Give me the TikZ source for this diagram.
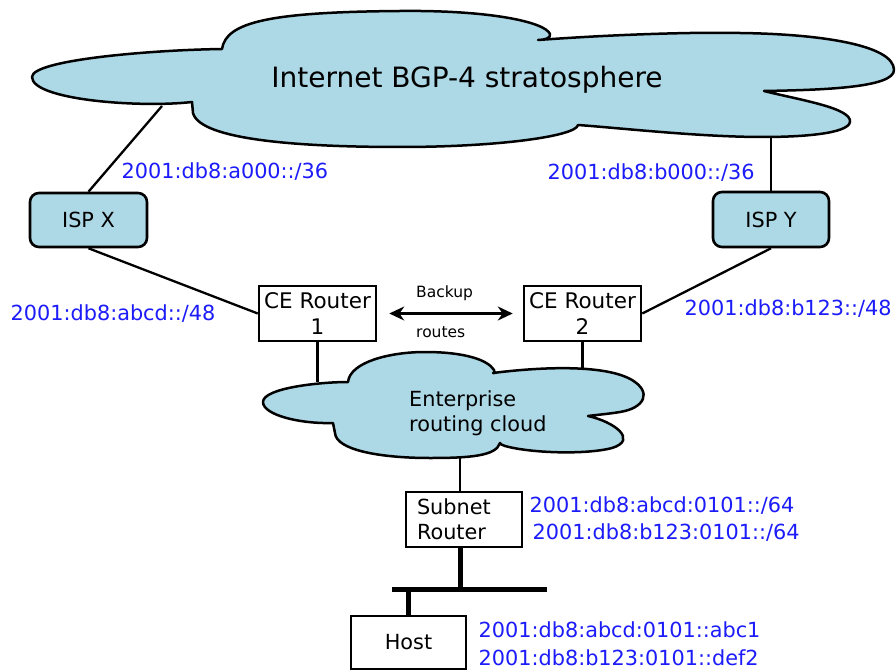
\documentclass[tikz,border=0pt]{standalone}
\usepackage{fontspec}
\setmainfont{DejaVu Sans}
\usetikzlibrary{arrows.meta}
\definecolor{cloudfill}{RGB}{173,216,230}
\definecolor{addrblue}{RGB}{28,28,250}
\begin{document}
\begin{tikzpicture}[x=1pt,y=-1pt,
  cloudshape/.style={draw=black, fill=cloudfill, line width=2.5pt, line join=round},
  link/.style={draw=black, line width=2.3pt},
  heavy/.style={draw=black, line width=5pt},
  ispbox/.style={draw=black, fill=cloudfill, line width=2.6pt, rounded corners=9pt, minimum width=117pt, minimum height=54pt, inner sep=0pt, font=\fontsize{20.8}{25}\selectfont},
  rbox/.style={draw=black, fill=white, line width=2.5pt, minimum width=117pt, minimum height=55pt, inner sep=0pt, align=center, font=\fontsize{21.5}{26}\selectfont},
  addr/.style={text=addrblue, font=\fontsize{20.8}{25}\selectfont, anchor=base west, inner sep=0pt},
  smalllabel/.style={font=\fontsize{15.5}{18}\selectfont, anchor=base west, inner sep=0pt},
  cloudtext/.style={inner sep=0pt}
]
\fill[white] (0,0) rectangle (896,671);
\useasboundingbox (0,0) rectangle (896,671);

% Internet cloud
\path[cloudshape] (222,49)
 .. controls (226,22) and (270,12) .. (400,11)
 .. controls (490,10) and (545,22) .. (550,34)
 .. controls (551,38) and (545,40) .. (538,40)
 .. controls (620,34) and (700,32) .. (740,33)
 .. controls (820,34) and (894,45) .. (894,70)
 .. controls (894,88) and (820,90) .. (764,91)
 .. controls (800,100) and (852,108) .. (850,122)
 .. controls (848,134) and (800,137) .. (763,137)
 .. controls (700,137) and (620,128) .. (578,125)
 .. controls (576,136) and (500,147) .. (400,147)
 .. controls (300,147) and (200,140) .. (193,113)
 -- (192,102)
 .. controls (140,108) and (32,100) .. (32,77)
 .. controls (32,60) and (150,50) .. (222,49)
 -- cycle;

% Enterprise cloud
\path[cloudshape] (348,382)
 .. controls (350,362) and (390,352) .. (425,352)
 .. controls (465,352) and (488,360) .. (494,370)
 .. controls (495,373) and (494,374) .. (493,373)
 .. controls (540,367) and (605,364) .. (632,380)
 .. controls (652,392) and (645,408) .. (620,412)
 .. controls (608,414) and (595,415) .. (588,416)
 .. controls (615,422) and (638,440) .. (612,448)
 .. controls (585,455) and (530,453) .. (505,446)
 .. controls (502,445) and (500,444) .. (500,443)
 .. controls (496,456) and (470,458) .. (430,458)
 .. controls (380,458) and (336,450) .. (335,433)
 -- (333,423)
 .. controls (300,424) and (263,415) .. (263,402)
 .. controls (263,388) and (320,382) .. (348,382)
 -- cycle;

\node[cloudtext, anchor=base, font=\fontsize{28}{30}\selectfont] (inettext) at (467,88) {Internet BGP-4 stratosphere};
\node[cloudtext, anchor=north west, align=left, font=\fontsize{20.8}{24.5}\selectfont] (enttext) at (409,390.5) {Enterprise\\routing cloud};

% boxes
\node[ispbox] (ispx) at (88.5,220) {ISP X};
\node[ispbox, minimum width=116pt, minimum height=55pt] (ispy) at (771,219.5) {ISP Y};
\node[rbox] (ce1) at (317.5,313.5) {CE Router\\1};
\node[rbox] (ce2) at (582.5,313.5) {CE Router\\2};
\node[rbox, align=left, text width=94pt, inner xsep=11pt, minimum width=116pt, font=\fontsize{20.8}{25}\selectfont] (subnet) at (464,519.5) {Subnet\\Router};
\node[rbox, minimum width=115pt, minimum height=53pt, font=\fontsize{20.8}{25}\selectfont] (host) at (408.5,642.5) {Host};

% connector points
\coordinate (inetL) at (162,106);
\coordinate (inetR) at (771,137);
\coordinate (entL) at (317.5,382);
\coordinate (entR) at (582.5,368);
\coordinate (entB) at (460,458);
\coordinate (busL) at (392,589);
\coordinate (busR) at (547,589);

\draw[link] (inetL) -- (ispx.north);
\draw[link] (inetR) -- (ispy.north);
\draw[link] (ispx.south) -- (ce1.west);
\draw[link] (ispy.south) -- (ce2.east);
\draw[link] (ce1.south) -- (entL);
\draw[link] (ce2.south) -- (entR);
\draw[link] (entB) -- (entB |- subnet.north);
\draw[heavy] (entB |- subnet.south) -- (entB |- busL);
\draw[heavy] (busL) -- (busR);
\draw[heavy] (host.north |- busL) -- (host.north);

\draw[link, {Stealth[length=15pt,width=14pt]}-{Stealth[length=15pt,width=14pt]}] ([xshift=12pt]ce1.east) -- ([xshift=-10pt]ce2.west);
\node[smalllabel] (backup) at (416,297.5) {Backup};
\node[smalllabel] (routes) at (416,337) {routes};

% addresses
\node[addr] (a1) at (121.5,178.5) {2001:db8:a000::/36};
\node[addr] (a2) at (547.5,179.5) {2001:db8:b000::/36};
\node[addr] (a3) at (10.5,320.5) {2001:db8:abcd::/48};
\node[addr] (a4) at (684.5,315.5) {2001:db8:b123::/48};
\node[addr] (a5) at (529.5,512.5) {2001:db8:abcd:0101::/64};
\node[addr] (a6) at (532.5,539.5) {2001:db8:b123:0101::/64};
\node[addr] (a7) at (478.5,637.5) {2001:db8:abcd:0101::abc1};
\node[addr] (a8) at (478.5,665.5) {2001:db8:b123:0101::def2};
\end{tikzpicture}
\end{document}
